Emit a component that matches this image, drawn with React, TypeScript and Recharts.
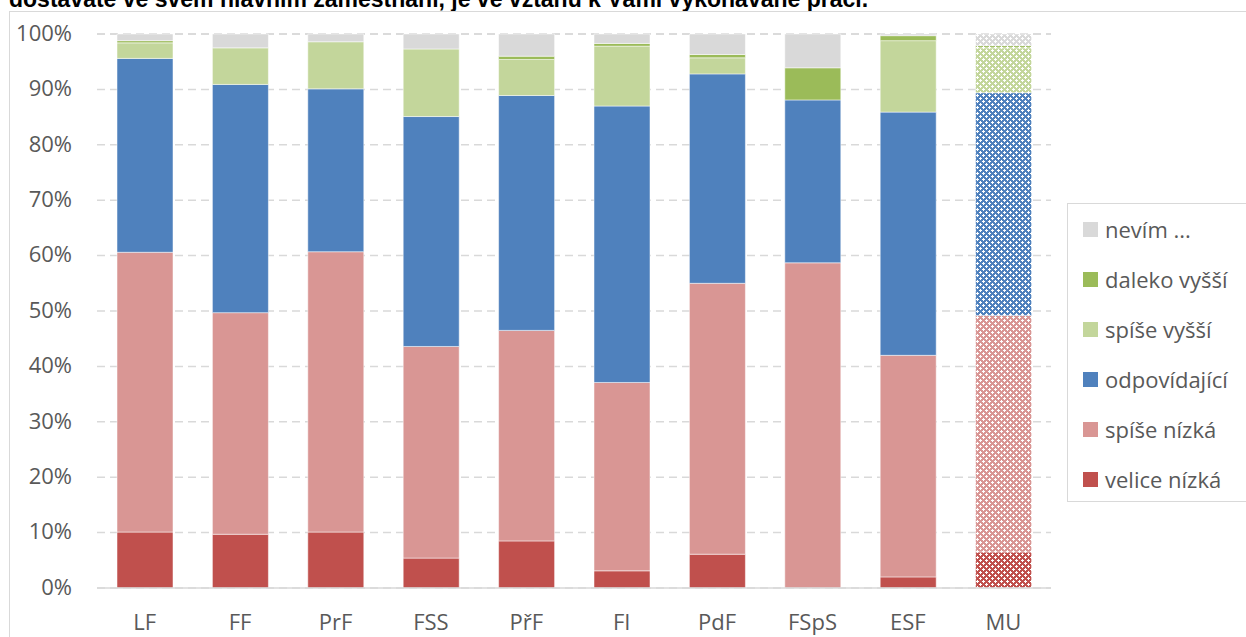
import { BarChart, Bar, XAxis, YAxis, CartesianGrid, Legend, Cell } from "recharts"

const categories = ["LF", "FF", "PrF", "FSS", "PřF", "FI", "PdF", "FSpS", "ESF", "MU"]

const veliceNizka = [10.1, 9.7, 10.1, 5.4, 8.5, 3.1, 6.1, 0, 2.0, 6.5]
const spiseNizka = [50.5, 40.0, 50.6, 38.2, 38.0, 34.0, 48.9, 58.7, 40.0, 42.7]
const odpovidajici = [35.0, 41.2, 29.4, 41.5, 42.4, 49.9, 37.8, 29.4, 43.9, 40.2]
const spiseVyssi = [2.8, 6.6, 8.5, 12.2, 6.5, 10.8, 2.9, 0, 12.9, 8.1]
const dalekoVyssi = [0.4, 0, 0, 0, 0.6, 0.5, 0.6, 5.8, 0.9, 0.4]
const nevim = [1.2, 2.5, 1.4, 2.7, 4.0, 1.7, 3.7, 6.1, 0.3, 2.1]

const yTicks = [0, 10, 20, 30, 40, 50, 60, 70, 80, 90, 100]

const title = "dostáváte ve svém hlavním zaměstnání, je ve vztahu k Vámi vykonávané práci."

// stack order bottom -> top
const series = [
  { key: "veliceNizka", name: "velice nízká", color: "#C0504D", values: veliceNizka },
  { key: "spiseNizka", name: "spíše nízká", color: "#D99694", values: spiseNizka },
  { key: "odpovidajici", name: "odpovídající", color: "#4F81BD", values: odpovidajici },
  { key: "spiseVyssi", name: "spíše vyšší", color: "#C3D69B", values: spiseVyssi },
  { key: "dalekoVyssi", name: "daleko vyšší", color: "#9BBB59", values: dalekoVyssi },
  { key: "nevim", name: "nevím ...", color: "#D9D9D9", values: nevim },
]

const data = categories.map((name, i) => {
  const row: Record<string, string | number> = { name }
  series.forEach((s) => {
    row[s.key] = s.values[i]
  })
  return row
})

const FONT = "'Open Sans', 'DejaVu Sans', sans-serif"
const TEXT = "#595959"

// Excel-like pattern fill used for the MU column
function patternId(key: string) {
  return `pat-${key}`
}

// legend lists the series top -> bottom, same as the stack
function LegendBox() {
  const items = [...series].reverse()
  return (
    <div
      style={{
        width: 190,
        height: 299,
        border: "1px solid #D9D9D9",
        background: "#fff",
        boxSizing: "border-box",
        paddingTop: 0,
        fontFamily: FONT,
        fontSize: 22,
        color: TEXT,
      }}
    >
      {items.map((it) => (
        <div key={it.key} style={{ display: "flex", alignItems: "center", height: 50, paddingLeft: 15 }}>
          <span style={{ width: 15, height: 15, background: it.color, marginRight: 7, flex: "none" }} />
          <span style={{ whiteSpace: "nowrap" }}>{it.name}</span>
        </div>
      ))}
    </div>
  )
}

export default function App() {
  return (
    <div style={{ position: "absolute", left: 0, top: 0, width: 1246, height: 637, overflow: "hidden", background: "#fff" }}>
      <div
        style={{
          position: "absolute",
          left: 9,
          top: -12,
          fontFamily: "'Liberation Sans', Arial, sans-serif",
          fontWeight: "bold",
          fontSize: 23,
          lineHeight: "23px",
          whiteSpace: "nowrap",
          color: "#000",
        }}
      >
        {title}
      </div>
      <div
        style={{
          position: "absolute",
          left: 9,
          top: 11,
          width: 1300,
          height: 700,
          border: "1px solid #D9D9D9",
        }}
      />
      <div style={{ position: "absolute", left: 0, top: 0 }}>
        <BarChart
          width={1246}
          height={637}
          data={data}
          margin={{ top: 34, right: 195, bottom: 9, left: 37 }}
        >
          <defs>
            {series.map((s) => (
              <pattern key={s.key} id={patternId(s.key)} width={6} height={6} patternUnits="userSpaceOnUse">
                <rect width={6} height={6} fill={s.color} />
                <rect x={2} y={1} width={1} height={3} fill="#fff" />
                <rect x={1} y={2} width={3} height={1} fill="#fff" />
                <rect x={5} y={4} width={1} height={3} fill="#fff" />
                <rect x={4} y={5} width={3} height={1} fill="#fff" />
                <rect x={5} y={0} width={1} height={1} fill="#fff" />
                <rect x={0} y={5} width={1} height={1} fill="#fff" />
              </pattern>
            ))}
          </defs>
          <CartesianGrid vertical={false} stroke="#D9D9D9" strokeDasharray="8 5" strokeWidth={1.5} />
          <XAxis
            dataKey="name"
            height={40}
            tickLine={false}
            tickSize={0}
            tickMargin={26}
            axisLine={{ stroke: "#D9D9D9", strokeWidth: 1.5 }}
            tick={{ fill: TEXT, fontSize: 22, fontFamily: FONT }}
            interval={0}
          />
          <YAxis
            width={60}
            domain={[0, 100]}
            ticks={yTicks}
            tickFormatter={(v: number) => `${v}%`}
            axisLine={false}
            tickLine={false}
            tickSize={0}
            tickMargin={25}
            tick={{ fill: TEXT, fontSize: 22, fontFamily: FONT, dy: -1 }}
          />
          <Legend
            layout="vertical"
            align="center"
            verticalAlign="middle"
            wrapperStyle={{ left: 1067, top: 203, width: 190 }}
            content={<LegendBox />}
          />
          {series.map((s) => (
            <Bar
              key={s.key}
              dataKey={s.key}
              name={s.name}
              stackId="a"
              fill={s.color}
              barSize={56}
              stroke="#ffffff"
              strokeWidth={0.5}
              isAnimationActive={false}
            >
              {categories.map((c) => (
                <Cell key={c} fill={c === "MU" ? `url(#${patternId(s.key)})` : s.color} />
              ))}
            </Bar>
          ))}
        </BarChart>
      </div>
    </div>
  )
}
